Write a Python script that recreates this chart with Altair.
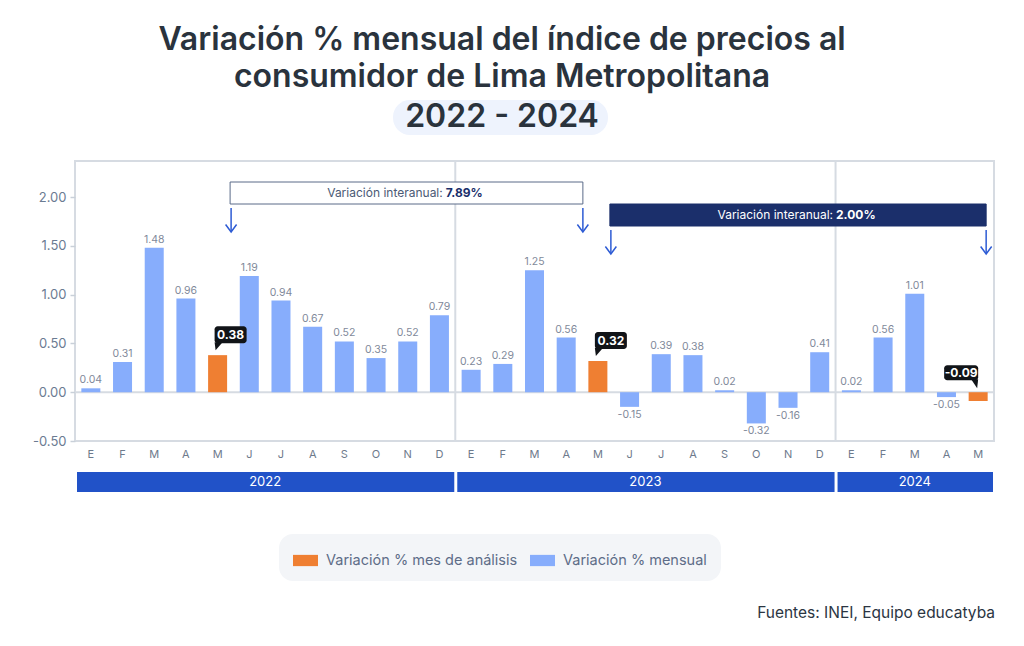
import altair as alt
import pandas as pd

# ---------------- data ----------------
YEARS = ["2022", "2023", "2024"]
MONTHS = ["E", "F", "M", "A", "M", "J", "J", "A", "S", "O", "N", "D"]
VAL_2022 = [0.04, 0.31, 1.48, 0.96, 0.38, 1.19, 0.94, 0.67, 0.52, 0.35, 0.52, 0.79]
VAL_2023 = [0.23, 0.29, 1.25, 0.56, 0.32, -0.15, 0.39, 0.38, 0.02, -0.32, -0.16, 0.41]
VAL_2024 = [0.02, 0.56, 1.01, -0.05, -0.09]
HIGHLIGHT = ["2022-05", "2023-05", "2024-05"]
SERIES = ["Variación % mes de análisis", "Variación % mensual"]
INTER_FROM = ["2022-05", "2023-05"]
INTER_TO = ["2023-05", "2024-05"]
INTER_VAL = ["7.89%", "2.00%"]
Y_TICKS = [-0.5, 0, 0.5, 1, 1.5, 2]
TITLE_LINES = ["Variación % mensual del índice de precios al",
               "consumidor de Lima Metropolitana", "2022 - 2024"]
SOURCE = "Fuentes: INEI, Equipo educatyba"

# ---------------- styles ----------------
FONT = "Inter"
BLUE = "#87adfc"
ORANGE = "#ef7f32"
NAVY = "#1b2f6b"
YEARBAND = "#2152c8"
GRID = "#d6dbe2"
ARROW = "#2d5bd4"
LBL = "#7f899a"

rows = []
i = 0
for y, vals in zip(YEARS, [VAL_2022, VAL_2023, VAL_2024]):
    for m, v in enumerate(vals):
        key = f"{y}-{m + 1:02d}"
        rows.append(dict(key=key, year=y, mes=MONTHS[m], idx=i, cx=i + 0.5, valor=v,
                         lbl=f"{v:.2f}",
                         serie=SERIES[0] if key in HIGHLIGHT else SERIES[1]))
        i += 1
df = pd.DataFrame(rows)
N = len(df)
keys = list(df["key"])
cx_of = dict(zip(df["key"], df["cx"]))

years_df = pd.DataFrame({
    "year": YEARS,
    "start": [float(df[df.year == y].idx.min()) for y in YEARS],
    "end": [float(df[df.year == y].idx.max() + 1) for y in YEARS],
})
years_df["mid"] = (years_df.start + years_df.end) / 2
sep_df = pd.DataFrame({"b": list(years_df.start[1:])})

inter_df = pd.DataFrame({"a": [cx_of[k] for k in INTER_FROM],
                         "b": [cx_of[k] for k in INTER_TO],
                         "val": INTER_VAL, "txt": ["Variación interanual:"] * 2})
inter_df["mid"] = (inter_df.a + inter_df.b) / 2

Y_SCALE = alt.Scale(domain=[-0.5, 2.37], nice=False, zero=False)
Y_AXIS = alt.Axis(values=Y_TICKS, format=".2f", grid=False, domain=False, tickSize=5,
                  tickColor="#c9d0d9", tickWidth=1.5, labelColor="#6b7b92",
                  labelFontSize=13, labelFont=FONT, labelPadding=4, title=None,
                  labelExpr="replace(datum.label, '\u2212', '-')")


def Y(field="valor:Q"):
    return alt.Y(field, scale=Y_SCALE, axis=Y_AXIS, title=None)


def Y0():
    return alt.YDatum(0, type="quantitative", scale=Y_SCALE, axis=Y_AXIS, title=None)


XQ_SCALE = alt.Scale(domain=[0, N], nice=False, zero=False)


def XQ(field):
    return alt.X(field, type="quantitative", scale=XQ_SCALE, axis=None)


def X2Q(field):
    return alt.X2(field)


one = pd.DataFrame({"k": [0]})

# bars
bars = alt.Chart(df).mark_bar().encode(
    x=alt.X("key:N", scale=alt.Scale(domain=keys, paddingInner=0.4, paddingOuter=0.2), axis=None),
    y=Y(), y2=alt.Y2Datum(0),
    color=alt.Color("serie:N", scale=alt.Scale(domain=SERIES, range=[ORANGE, BLUE]),
                    legend=alt.Legend(orient="none", legendX=204, legendY=373, direction="horizontal",
                                      title=None, fillColor="#f3f5f8", cornerRadius=14, padding=14,
                                      labelFont=FONT, labelFontSize=14.5, labelColor="#5e6d88",
                                      labelLimit=400,
                                      symbolType="M -1 -0.45 L 1 -0.45 L 1 0.45 L -1 0.45 Z",
                                      symbolSize=625, symbolStrokeWidth=0, columnPadding=12,
                                      labelOffset=8)),
)

zero_rule = alt.Chart(one).mark_rule(color=GRID, strokeWidth=2).encode(y=Y0())
seps = alt.Chart(sep_df).mark_rule(color=GRID, strokeWidth=2).encode(x=XQ("b"))

# value labels
norm = df[df.serie == SERIES[1]]
lab_pos = alt.Chart(norm[norm.valor >= 0]).mark_text(
    baseline="bottom", dy=-3, fontSize=10.5, font=FONT, color=LBL).encode(
    x=XQ("cx"), y=Y(), text="lbl:N")
lab_neg = alt.Chart(norm[norm.valor < 0]).mark_text(
    baseline="top", dy=3, fontSize=10.5, font=FONT, color=LBL).encode(
    x=XQ("cx"), y=Y(), text="lbl:N")

# callouts
hl = df[df.serie == SERIES[0]]
hp = hl[hl.valor >= 0]
hn = hl[hl.valor < 0]
CALL = "#111418"
cp_box = alt.Chart(hp).mark_rect(color=CALL, cornerRadius=3, xOffset=-3, x2Offset=29,
                                 yOffset=-29, y2Offset=-12).encode(
    x=XQ("cx"), x2=X2Q("cx"), y=Y(), y2=alt.Y2("valor:Q"))
cp_tail = alt.Chart(hp).mark_point(shape="M -3 -13 L 5 -13 L -2 -5 Z", size=4, filled=True,
                                   color=CALL, opacity=1, strokeWidth=0).encode(x=XQ("cx"), y=Y())
cp_txt = alt.Chart(hp).mark_text(dx=13, dy=-20.5, color="white", fontWeight="bold", fontSize=12,
                                 font=FONT).encode(x=XQ("cx"), y=Y(), text="lbl:N")
cn_box = alt.Chart(hn).mark_rect(color=CALL, cornerRadius=3, xOffset=-34, x2Offset=0,
                                 yOffset=-27, y2Offset=-12).encode(
    x=XQ("cx"), x2=X2Q("cx"), y=Y0(), y2=alt.Y2Datum(0))
cn_tail = alt.Chart(hn).mark_point(shape="M -7 -13 L 0 -13 L -1 -4 Z", size=4, filled=True,
                                   color=CALL, opacity=1, strokeWidth=0).encode(x=XQ("cx"), y=Y0())
cn_txt = alt.Chart(hn).mark_text(dx=-17, dy=-19.5, color="white", fontWeight="bold", fontSize=12,
                                 font=FONT).encode(x=XQ("cx"), y=Y0(), text="lbl:N")

# interannual annotations
def annotation(row, fill, stroke, txtcol, boldcol, y0, x_off, x2_off, split_dx):
    d = inter_df.iloc[[row]]
    box = alt.Chart(d).mark_rect(fill=fill, stroke=stroke, strokeWidth=1, xOffset=x_off,
                                 x2Offset=x2_off).encode(
        x=XQ("a"), x2=X2Q("b"), y=alt.value(y0), y2=alt.value(y0 + 22))
    t1 = alt.Chart(d).mark_text(align="right", baseline="middle", dx=split_dx, fontSize=12,
                                font=FONT, color=txtcol).encode(
        x=XQ("mid"), y=alt.value(y0 + 11), text="txt:N")
    t2 = alt.Chart(d).mark_text(align="left", baseline="middle", dx=split_dx + 3, fontSize=12,
                                font=FONT, fontWeight="bold", color=boldcol).encode(
        x=XQ("mid"), y=alt.value(y0 + 11), text="val:N")
    layers = [box, t1, t2]
    for f, off in (("a", x_off + 1), ("b", x2_off)):
        layers.append(alt.Chart(d).mark_rule(color=ARROW, strokeWidth=1.5, xOffset=off).encode(
            x=XQ(f), y=alt.value(y0 + 26), y2=alt.value(y0 + 49)))
        layers.append(alt.Chart(d).mark_point(shape="M -5.5 -7.5 L 0 0 L 5.5 -7.5", size=4,
                                              filled=False, color=ARROW, opacity=1,
                                              strokeWidth=1.5, xOffset=off).encode(
            x=XQ(f), y=alt.value(y0 + 50)))
    return layers


ann1 = annotation(0, "white", "#5a6b88", "#4b5a75", NAVY, 21, 12.5, -15, 35)
ann2 = annotation(1, NAVY, NAVY, "white", "white", 43, 12, 8, 45)

# month + year axis
months_txt = alt.Chart(df).mark_text(fontSize=11, font=FONT, color="#6e7a8c").encode(
    x=XQ("cx"), y=alt.value(294), text="mes:N")
year_band = alt.Chart(years_df).mark_rect(color=YEARBAND, xOffset=2, x2Offset=-1).encode(
    x=XQ("start"), x2=X2Q("end"), y=alt.value(311), y2=alt.value(331))
year_txt = alt.Chart(years_df).mark_text(fontSize=13, font=FONT, color="white").encode(
    x=XQ("mid"), y=alt.value(321), text="year:N")

# title and source
pill = alt.Chart(one).mark_rect(fill="#eef3fd", cornerRadius=17).encode(
    x=alt.value(318), x2=alt.value(533), y=alt.value(-61), y2=alt.value(-26))
titles = []
for line, yy in zip(TITLE_LINES, [-121, -84, -44]):
    titles.append(alt.Chart(pd.DataFrame({"t": [line]})).mark_text(
        fontSize=32, font=FONT, fontWeight=600, color="#2a333d", baseline="middle").encode(
        x=alt.value(427), y=alt.value(yy), text="t:N"))
source = alt.Chart(pd.DataFrame({"t": [SOURCE]})).mark_text(
    fontSize=15.5, font=FONT, color="#2b3542", align="right", baseline="middle").encode(
    x=alt.value(920), y=alt.value(452), text="t:N")

chart = alt.layer(
    pill, *titles, zero_rule, seps, bars, lab_pos, lab_neg,
    cp_box, cp_tail, cp_txt, cn_box, cn_tail, cn_txt,
    *ann1, *ann2, months_txt, year_band, year_txt, source
).resolve_scale(x="independent").properties(
    width=919, height=280,
    autosize=alt.AutoSizeParams(type="none"),
    padding={"left": 67, "top": 153, "right": 22, "bottom": 197},
).configure_view(stroke=GRID, strokeWidth=2)

chart.save("out.html", embed_options={"renderer": "svg", "actions": False})
